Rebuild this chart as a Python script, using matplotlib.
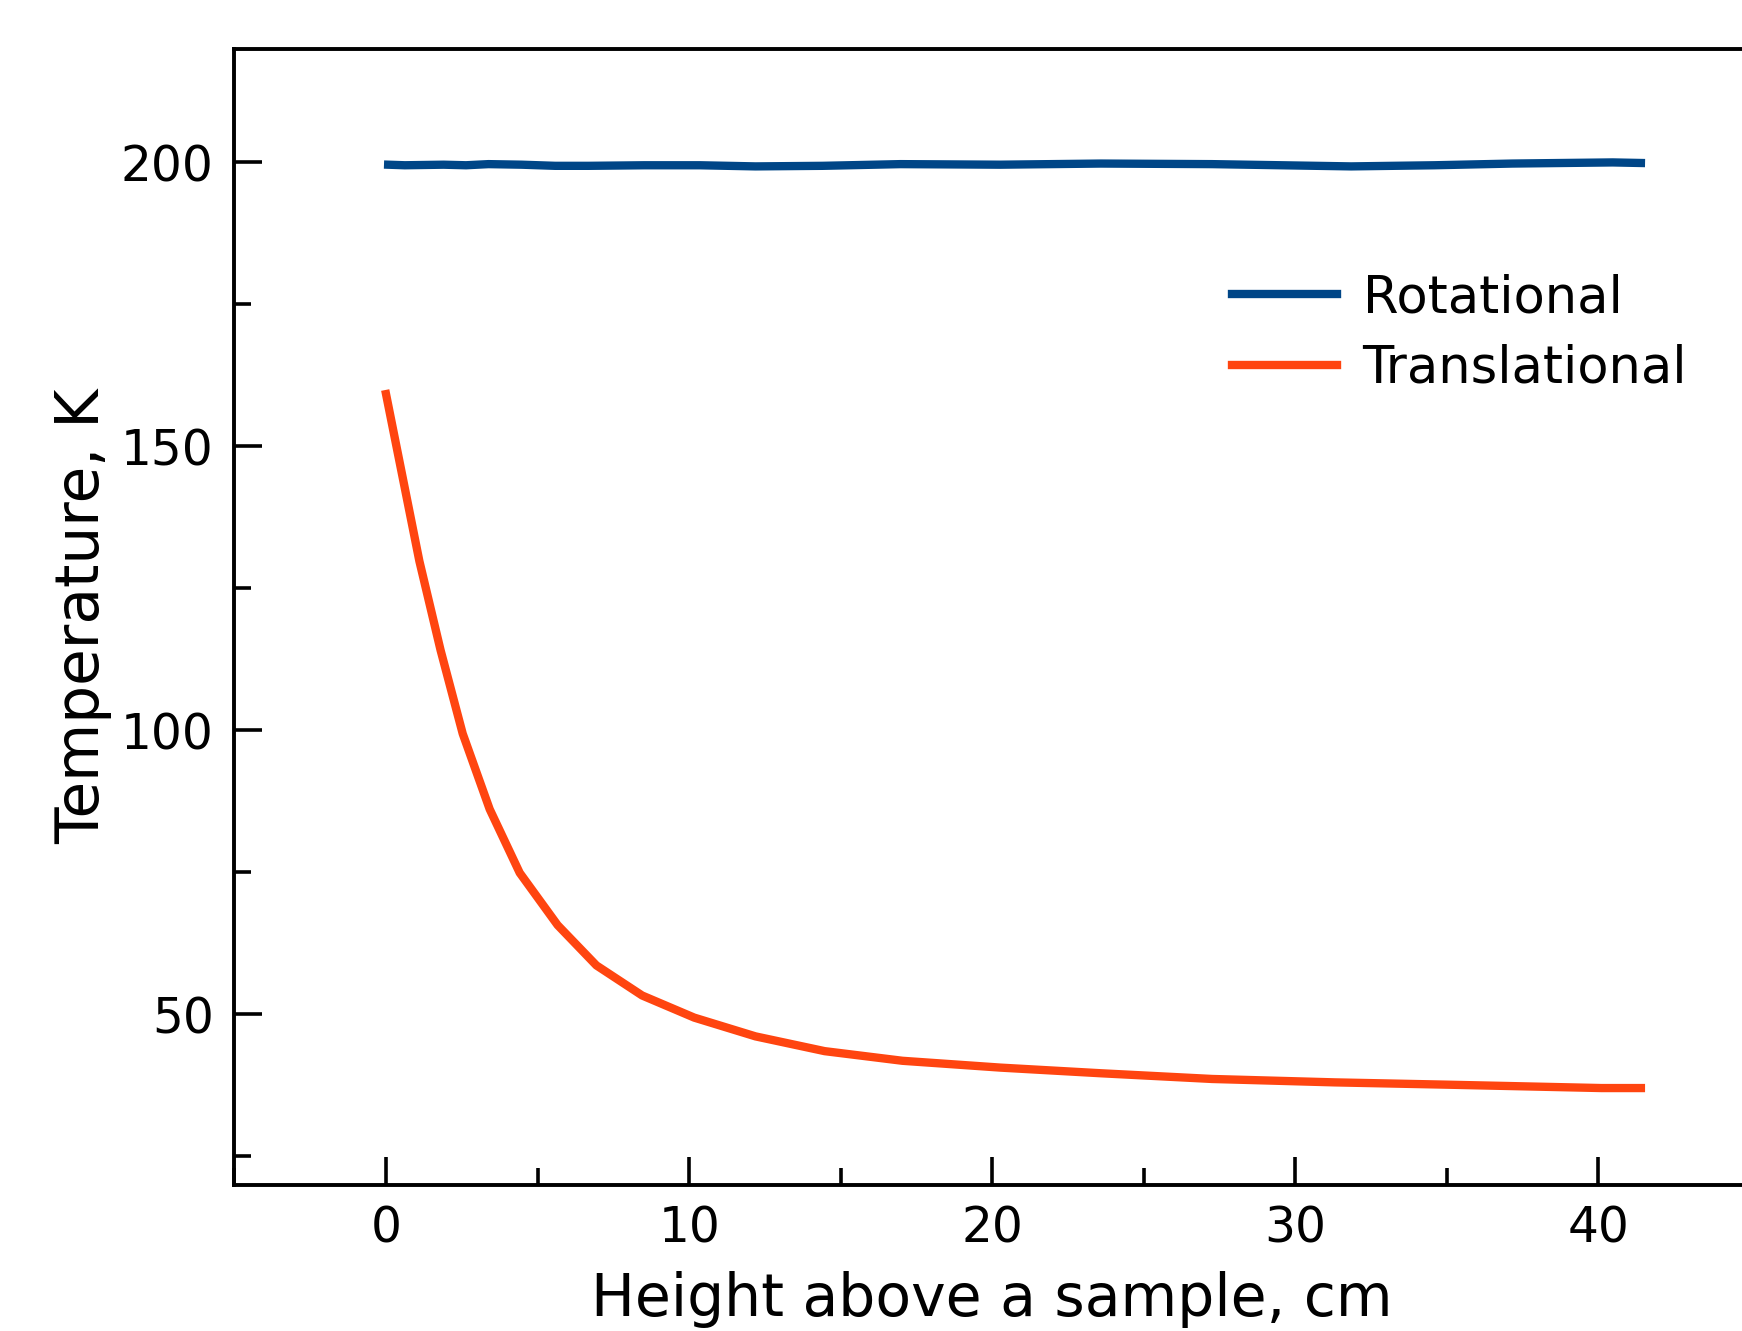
import matplotlib
matplotlib.use("Agg")
import matplotlib.pyplot as plt
from matplotlib.ticker import MultipleLocator

# rotational temperature vs height
rot_h = [0.07, 0.62, 1.9, 2.64, 3.38, 4.48, 5.58, 6.68, 8.52, 10.36, 12.19,
         14.4, 16.97, 20.27, 23.58, 27.25, 31.84, 34.59, 37.16, 40.47, 41.4]
rot_t = [199.6, 199.5, 199.6, 199.5, 199.7, 199.6, 199.4, 199.4, 199.5, 199.5, 199.3,
         199.4, 199.7, 199.6, 199.8, 199.7, 199.3, 199.5, 199.8, 200.0, 199.9]

# translational temperature vs height
tr_h = [0.0, 1.10, 1.80, 2.53, 3.42, 4.41, 5.66, 6.94, 8.45, 10.17, 12.19,
        14.47, 17.04, 20.27, 23.6, 27.25, 31.3, 34.96, 40.1, 41.4]
tr_t = [159.2, 129.8, 114.1, 99.4, 86.1, 74.9, 65.7, 58.6, 53.3, 49.4, 46.1,
        43.5, 41.8, 40.6, 39.6, 38.6, 38.0, 37.6, 37.0, 37.0]

BLUE = "#004687"
ORANGE = "#ff4510"

fig = plt.figure(figsize=(8.71, 6.655), dpi=200)
ax = fig.add_axes([0.1346, 0.110, 0.870, 0.8533])

ax.plot(rot_h, rot_t, color=BLUE, linewidth=3.0, label="Rotational")
ax.plot(tr_h, tr_t, color=ORANGE, linewidth=3.0, label="Translational")

ax.set_xlim(-5, 45)
ax.set_ylim(20, 220)
ax.xaxis.set_major_locator(MultipleLocator(10))
ax.xaxis.set_minor_locator(MultipleLocator(5))
ax.yaxis.set_major_locator(MultipleLocator(50))
ax.yaxis.set_minor_locator(MultipleLocator(25))

ax.tick_params(which="both", direction="in", width=1.3, labelsize=17.5)
ax.tick_params(which="major", length=10)
ax.tick_params(axis="x", which="major", pad=7)
ax.tick_params(axis="y", which="major", pad=7.5)
ax.tick_params(which="minor", length=6)
for s in ax.spines.values():
    s.set_linewidth(1.4)

ax.set_xlabel("Height above a sample, cm", fontsize=21, labelpad=7)
ax.set_ylabel("Temperature, K", fontsize=21.5, labelpad=3)

ax.legend(loc="upper left", bbox_to_anchor=(0.628, 0.843), frameon=False,
          fontsize=18.4, handlelength=2.05, handletextpad=0.5, labelspacing=0.4)

fig.savefig("out.png", dpi=200)
